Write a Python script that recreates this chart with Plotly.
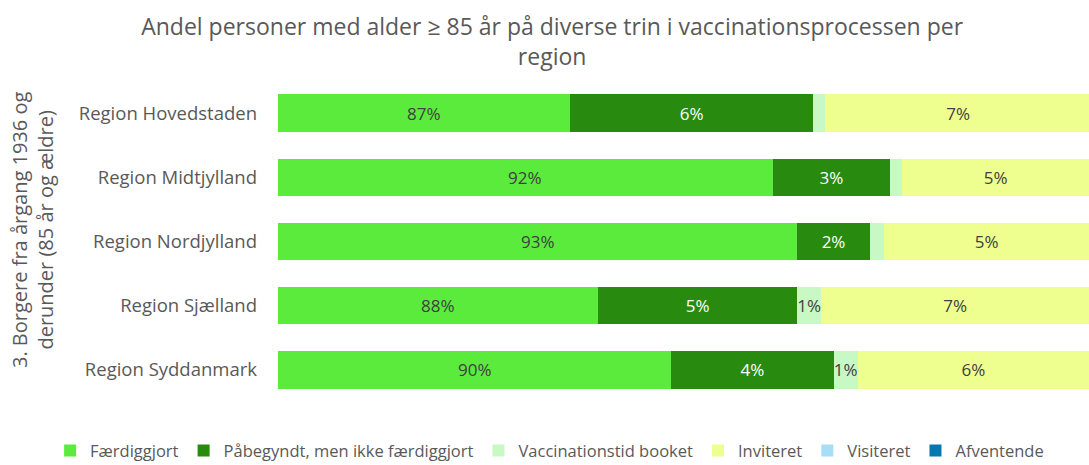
import plotly.graph_objects as go

regions = ["Region Hovedstaden", "Region Midtjylland", "Region Nordjylland",
           "Region Sjælland", "Region Syddanmark"]

faerdig = [87.2, 92.2, 92.8, 87.9, 89.7]
paabegyndt = [6.0, 2.9, 1.8, 4.9, 4.0]
booket = [0.3, 0.3, 0.35, 0.6, 0.6]
inviteret = [6.55, 4.6, 5.05, 6.6, 5.7]
visiteret = [0, 0, 0, 0, 0]
afventende = [0, 0, 0, 0, 0]

X_MIN, X_MAX = 80, 100

series = [
    ("Færdiggjort", faerdig, "#5BEB3D", "#404040"),
    ("Påbegyndt, men ikke færdiggjort", paabegyndt, "#288A0F", "#FFFFFF"),
    ("Vaccinationstid booket", booket, "#C8F8C3", "#404040"),
    ("Inviteret", inviteret, "#EEFF8F", "#404040"),
    ("Visiteret", visiteret, "#A8DDF8", "#404040"),
    ("Afventende", afventende, "#0677AF", "#FFFFFF"),
]

FONT = "Open Sans"
LBL = 17
fig = go.Figure()
for i, (name, vals, color, tcol) in enumerate(series):
    texts = [f"{round(v)}%" if round(v) >= 1 else "" for v in vals]
    fig.add_trace(go.Bar(
        name=name, y=regions, x=vals, orientation="h",
        marker=dict(color=color, line=dict(width=0)),
        text=texts if i > 0 else None,
        textposition="inside" if i > 0 else "none",
        insidetextanchor="middle", textangle=0,
        constraintext="none", cliponaxis=True,
        textfont=dict(family=FONT, size=LBL, color=tcol),
        hoverinfo="skip",
    ))

# labels of the first series, centred on the visible part of the bar
for r, v in zip(regions, faerdig):
    fig.add_annotation(x=(X_MIN + v) / 2, y=r, xref="x", yref="y",
                       text=f"{round(v)}%", showarrow=False,
                       font=dict(family=FONT, size=LBL, color="#404040"))

# y-axis title
fig.add_annotation(x=-0.302, y=0.536, xref="paper", yref="paper",
                   xanchor="center", yanchor="middle", textangle=-90,
                   text="3. Borgere fra årgang 1936 og<br>derunder (85 år og ældre)",
                   showarrow=False,
                   font=dict(family=FONT, size=20, color="#595959"))

fig.update_layout(
    barmode="stack", bargap=0.42,
    width=1089, height=465,
    margin=dict(l=278, r=0, t=81, b=63, autoexpand=False),
    paper_bgcolor="white", plot_bgcolor="white",
    font=dict(family=FONT, color="#595959"),
    title=dict(text="Andel personer med alder ≥ 85 år på diverse trin i vaccinationsprocessen per<br>region",
               x=0.507, xanchor="center", y=0.925, yanchor="middle",
               font=dict(family=FONT, size=23, color="#595959")),
    xaxis=dict(range=[X_MIN, X_MAX], visible=False, fixedrange=True),
    yaxis=dict(autorange="reversed", tickfont=dict(family=FONT, size=18.5, color="#595959"),
               ticks="", showline=False, showgrid=False, ticklabelstandoff=20,
               fixedrange=True),
    legend=dict(orientation="h", x=-0.281, xanchor="left", xref="paper",
                y=-0.152, yanchor="middle", yref="paper",
                font=dict(family=FONT, size=16.5, color="#595959"),
                itemwidth=30, traceorder="normal", tracegroupgap=0),
    showlegend=True,
)

fig.write_html("out.html", config={"displayModeBar": False},
               post_script="document.body.style.margin='0px';")
